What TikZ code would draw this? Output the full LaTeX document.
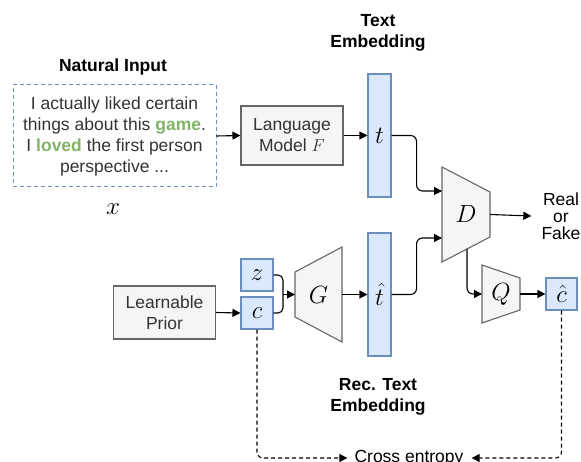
\documentclass[tikz,border=0pt]{standalone}
\usepackage{fontspec}
\setsansfont{Liberation Sans}
\usetikzlibrary{arrows.meta}
\definecolor{vecfill}{HTML}{DAE8FC}
\definecolor{vecline}{HTML}{6C8EBF}
\definecolor{boxfill}{HTML}{F5F5F5}
\definecolor{boxline}{HTML}{666666}
\definecolor{txtgray}{HTML}{333333}
\definecolor{wordgreen}{HTML}{82B366}
\begin{document}
\begin{tikzpicture}[x=1pt,y=-1pt,
  every node/.style={font=\fontsize{17.5}{21}\selectfont\sffamily,align=center,inner sep=0pt},
  title/.style={font=\fontsize{17.5}{21}\selectfont\sffamily\bfseries},
  bigmath/.style={font=\fontsize{24.5}{24}\selectfont},
  greybox/.style={draw=boxline,fill=boxfill,line width=1.1pt,minimum width=102pt,text=txtgray},
  vec/.style={draw=vecline,fill=vecfill,line width=1.1pt,font=\fontsize{24.5}{24}\selectfont},
  trap/.style={draw=boxline,fill=boxfill,line width=1.1pt},
  arr/.style={-{Triangle[length=8pt,width=8pt]},line width=1.1pt,rounded corners=6pt},
  ce/.style={arr,dash pattern=on 4pt off 3pt}]
  \useasboundingbox (0,0) rectangle (581,462);
  % input text
  \node[title] (natlabel) at (113,67) {Natural Input};
  \node[draw=vecline,line width=1pt,dash pattern=on 4pt off 3pt,minimum width=203pt,minimum height=102pt,text=txtgray] (nat) at (114.5,136)
    {I actually liked certain\\things about this \textcolor{wordgreen}{\textbf{game}}.\\I \textcolor{wordgreen}{\textbf{loved}} the first person\\perspective ...};
  \node[bigmath] (x) at (113,209) {$x$};
  \node[greybox,minimum height=59pt] (lm) at (292,135.5) {Language\\Model $F$};
  % embeddings
  \node[title] (temb) at (378,32.5) {Text\\Embedding};
  \node[vec,minimum width=23pt,minimum height=123pt] (t) at (379.5,135.5) {$t$};
  \node[vec,minimum width=23pt,minimum height=123pt] (that) at (379.5,294.5) {$\hat t$};
  \node[title] (remb) at (378,397) {Rec. Text\\Embedding};
  % D, G, Q
  \draw[trap] (442,167) -- (490,192) -- (490,237) -- (442,262) -- cycle;
  \node[bigmath] (D) at (466,214.5) {$D$};
  \coordinate (Din1) at (442,191);
  \coordinate (Din2) at (442,238);
  \coordinate (Dout) at (490,214.5);
  \coordinate (Dlow) at (467,249);
  \draw[trap] (295,272) -- (342,247) -- (342,342) -- (295,317) -- cycle;
  \node[bigmath] (G) at (318.5,294.5) {$G$};
  \coordinate (Gin) at (295,294.5);
  \coordinate (Gout) at (342,294.5);
  \draw[trap] (482,265) -- (520,278) -- (520,310) -- (482,323) -- cycle;
  \node[bigmath] (Q) at (501,294) {$Q$};
  \coordinate (Qin) at (482,294);
  \coordinate (Qout) at (520,294);
  % codes
  \node[vec,minimum width=32pt,minimum height=32pt] (z) at (257,275) {$z$};
  \node[vec,minimum width=32pt,minimum height=32pt] (c) at (257,313) {$c$};
  \node[vec,minimum width=31pt,minimum height=32pt] (chat) at (561.5,294) {$\hat c$};
  \node[greybox,minimum height=53pt] (lp) at (164.5,312.5) {Learnable\\Prior};
  \node[font=\fontsize{17.5}{17}\selectfont\sffamily] (rf) at (561,216) {Real\\or\\Fake};
  \node (xent) at (409,458) {Cross entropy};
  \coordinate (brace) at (283,294.5);
  % connectors
  \draw[arr] (nat.east) -- (lm.west);
  \draw[arr] (lm.east) -- (t.west);
  \draw[arr] (t.east) -- ++(25,0) |- (Din1);
  \draw[arr] (that.east) -- ++(25,0) |- (Din2);
  \draw[arr] (Dout) -- ([xshift=-10pt]rf.west);
  \draw[arr] (Dlow) |- (Qin);
  \draw[arr] (Qout) -- (chat.west);
  \draw[arr] (lp.east) -- (c.west);
  \draw[line width=1.1pt,rounded corners=5pt] (z.east) -| (brace) |- (c.east);
  \draw[arr] (brace) -- (Gin);
  \draw[arr] (Gout) -- (that.west);
  \draw[ce] (c.south) |- ([xshift=-7pt]xent.west);
  \draw[ce] (chat.south) |- ([xshift=8pt]xent.east);
\end{tikzpicture}
\end{document}
